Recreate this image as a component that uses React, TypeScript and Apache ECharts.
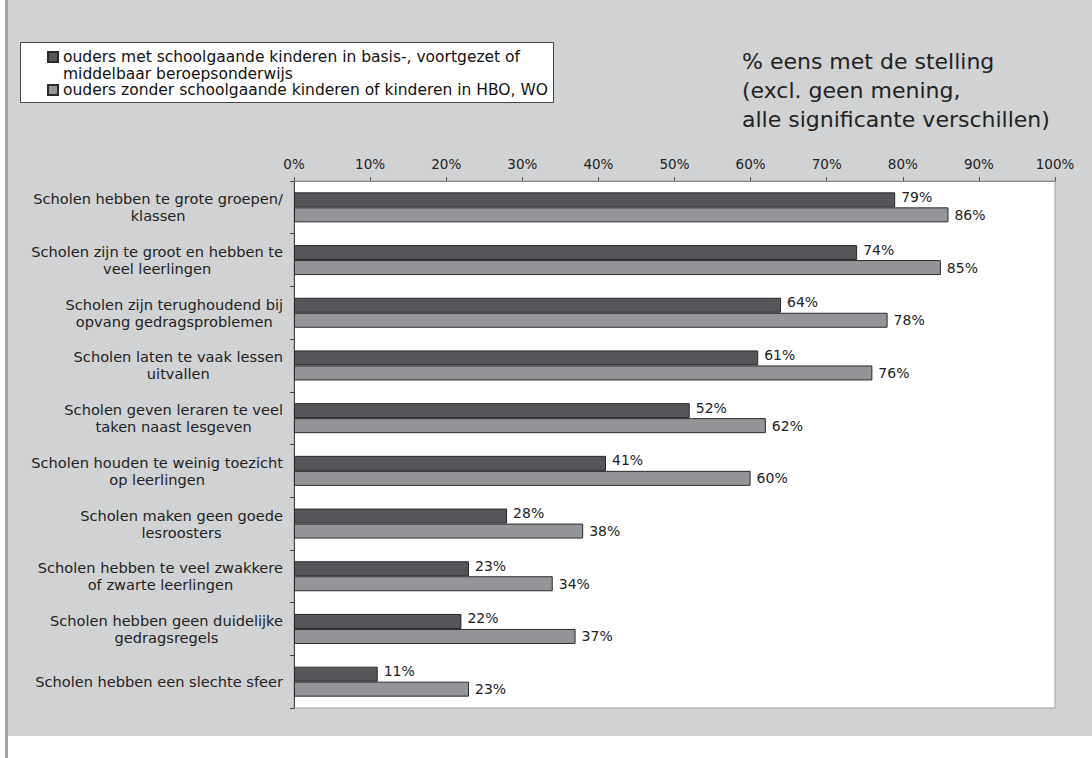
import React, { useEffect, useRef } from "react";
import * as echarts from "echarts";

const categories = [
  "Scholen hebben te grote groepen/\nklassen",
  "Scholen zijn te groot en hebben te\nveel leerlingen",
  "Scholen zijn terughoudend bij\nopvang gedragsproblemen",
  "Scholen laten te vaak lessen\nuitvallen",
  "Scholen geven leraren te veel\ntaken naast lesgeven",
  "Scholen houden te weinig toezicht\nop leerlingen",
  "Scholen maken geen goede\nlesroosters",
  "Scholen hebben te veel zwakkere\nof zwarte leerlingen",
  "Scholen hebben geen duidelijke\ngedragsregels",
  "Scholen hebben een slechte sfeer",
];
const seriesNames = [
  "ouders met schoolgaande kinderen in basis-, voortgezet of\nmiddelbaar beroepsonderwijs",
  "ouders zonder schoolgaande kinderen of kinderen in HBO, WO",
];
const withChildren = [79, 74, 64, 61, 52, 41, 28, 23, 22, 11];
const withoutChildren = [86, 85, 78, 76, 62, 60, 38, 34, 37, 23];
const titleLines = ["% eens met de stelling", "(excl. geen mening,", "alle significante verschillen)"];

const FONT = "DejaVu Sans";

// legend icons: a 10x10 square inside a taller invisible box (move-to points only extend the box)
const ICON_TOP = "path://M0,26 M0,0h10v10h-10z";
const ICON_MID = "path://M0,0 M0,26 M0,8h10v10h-10z";

export default function App() {
  const ref = useRef<HTMLDivElement>(null);
  useEffect(() => {
    const chart = echarts.init(ref.current!, null, { renderer: "svg" });
    chart.setOption({
      animation: false,
      backgroundColor: "#ffffff",
      title: {
        text: titleLines.join("\n"),
        left: 737,
        top: 42,
        textStyle: { fontFamily: FONT, fontSize: 22, fontWeight: "normal", color: "#222", lineHeight: 29 },
      },
      graphic: [
        { type: "rect", z: -20, shape: { x: 8, y: 0, width: 1084, height: 736 }, style: { fill: "#d1d2d4" } },
        { type: "rect", z: -20, shape: { x: 5, y: 0, width: 3, height: 758 }, style: { fill: "#a3a4a6" } },
        {
          type: "rect",
          z: -5,
          shape: { x: 20.5, y: 42.5, width: 533, height: 60 },
          style: { fill: "#ffffff", stroke: "#444", lineWidth: 1 },
        },
      ],
      legend: {
        orient: "vertical",
        left: 47,
        top: 48,
        padding: 0,
        itemGap: -6,
        itemWidth: 10,
        itemHeight: 26,
        data: [
          { name: seriesNames[0], icon: ICON_TOP },
          { name: seriesNames[1], icon: ICON_MID },
        ],
        textStyle: { fontFamily: FONT, fontSize: 15.5, color: "#111", lineHeight: 17 },
      },
      grid: {
        left: 294,
        right: 37,
        top: 181,
        bottom: 50,
        show: true,
        backgroundColor: "#ffffff",
        borderColor: "#a0a0a0",
        borderWidth: 1,
      },
      xAxis: {
        type: "value",
        position: "top",
        min: 0,
        max: 100,
        interval: 10,
        splitLine: { show: false },
        axisLine: { show: true, lineStyle: { color: "#888" } },
        axisTick: { show: true, length: 4, lineStyle: { color: "#555" } },
        axisLabel: { formatter: "{value}%", fontFamily: FONT, fontSize: 13.5, color: "#222", margin: 10 },
      },
      yAxis: {
        type: "category",
        inverse: true,
        data: categories,
        axisLine: { show: true, lineStyle: { color: "#444" } },
        axisTick: { show: true, length: 4, lineStyle: { color: "#444" } },
        axisLabel: {
          margin: 11,
          align: "right",
          fontFamily: FONT,
          fontSize: 14.6,
          color: "#222",
          lineHeight: 17,
          formatter: (v: string) => v.split("\n").map((s) => `{c|${s}}`).join("\n"),
          rich: { c: { align: "center", fontFamily: FONT, fontSize: 14.6, color: "#222", lineHeight: 17 } },
        },
      },
      series: [
        {
          name: seriesNames[0],
          type: "bar",
          data: withChildren,
          barWidth: 15,
          barGap: "0%",
          itemStyle: { color: "#55565a", borderColor: "#2a2a2a", borderWidth: 1 },
          label: {
            show: true,
            position: "right",
            distance: 6,
            offset: [0, -3],
            formatter: "{c}%",
            fontFamily: FONT,
            fontSize: 14,
            color: "#222",
          },
        },
        {
          name: seriesNames[1],
          type: "bar",
          data: withoutChildren,
          barWidth: 15,
          barGap: "0%",
          itemStyle: { color: "#939598", borderColor: "#2a2a2a", borderWidth: 1 },
          label: {
            show: true,
            position: "right",
            distance: 6,
            formatter: "{c}%",
            fontFamily: FONT,
            fontSize: 14,
            color: "#222",
          },
        },
      ],
    });
    return () => chart.dispose();
  }, []);
  return (
    <div
      ref={ref}
      style={{ position: "fixed", left: 0, top: 0, width: 1092, height: 758 }}
    />
  );
}
